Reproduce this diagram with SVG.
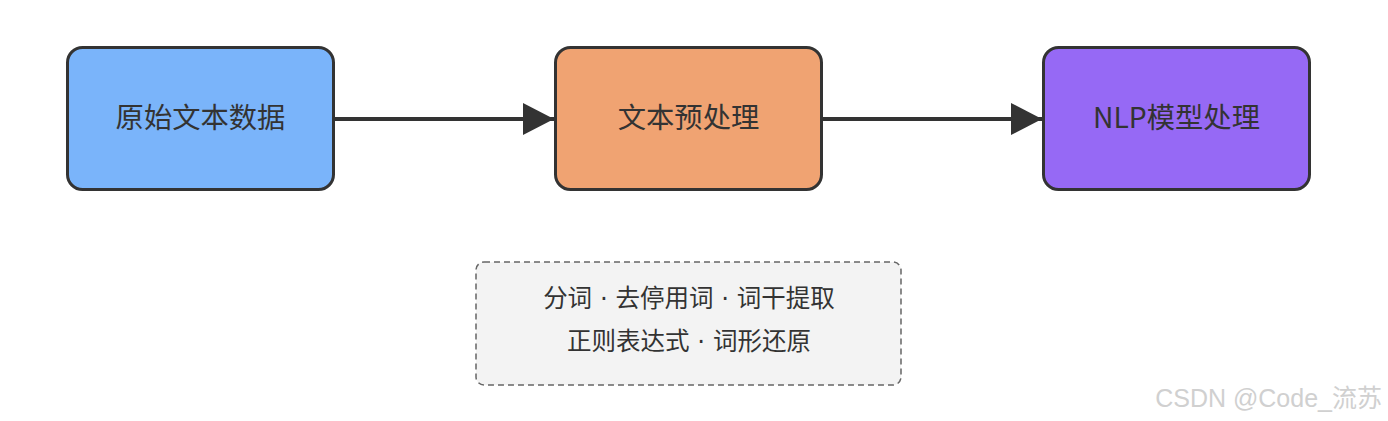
<svg xmlns="http://www.w3.org/2000/svg" width="1388" height="421" viewBox="0 0 1388 421">
<defs>
<style>
.node{stroke:#333;stroke-width:3}
.lbl{font-family:"Noto Sans CJK SC","Liberation Sans",sans-serif;font-size:28.3px;fill:#333;text-anchor:middle}
.note{font-family:"DejaVu Sans","Noto Sans CJK SC",sans-serif;font-size:24.5px;fill:#333;text-anchor:middle}
.edge{stroke:#333;stroke-width:4;fill:none}
</style>
<marker id="arrow" markerWidth="32" markerHeight="32" viewBox="0 0 32 32" refX="31" refY="16" orient="auto" markerUnits="userSpaceOnUse">
<path d="M0,0 L31,16 L0,32 Z" fill="#333"/>
</marker>
</defs>
<rect width="1388" height="421" fill="#fff"/>
<g id="connectors">
<line class="edge" x1="334" y1="119" x2="554" y2="119" marker-end="url(#arrow)"/>
<line class="edge" x1="822" y1="119" x2="1042" y2="119" marker-end="url(#arrow)"/>
</g>
<g id="node-raw">
<rect class="node" x="67.5" y="47.5" width="266" height="142" rx="15" fill="#7AB4FA"/>
<text class="lbl" x="200.5" y="127.5">原始文本数据</text>
</g>
<g id="node-preprocess">
<rect class="node" x="555.5" y="47.5" width="266" height="142" rx="15" fill="#F0A372"/>
<text class="lbl" x="688.5" y="127.5">文本预处理</text>
</g>
<g id="node-nlp">
<rect class="node" x="1043.5" y="47.5" width="266" height="142" rx="15" fill="#9669F5"/>
<text class="lbl" x="1176.5" y="127.5">NLP模型处理</text>
</g>
<g id="note">
<rect x="476" y="262" width="425" height="123" rx="8" fill="#F3F3F3" stroke="#666" stroke-width="1.5" stroke-dasharray="6,4"/>
<text class="note" x="689" y="306.5">分词 · 去停用词 · 词干提取</text>
<text class="note" x="689" y="350">正则表达式 · 词形还原</text>
</g>
<text x="1382" y="407" text-anchor="end" font-family="'Liberation Sans','Noto Sans CJK SC',sans-serif" font-size="25" fill="#D0D0D0">CSDN @Code_流苏</text>
</svg>
